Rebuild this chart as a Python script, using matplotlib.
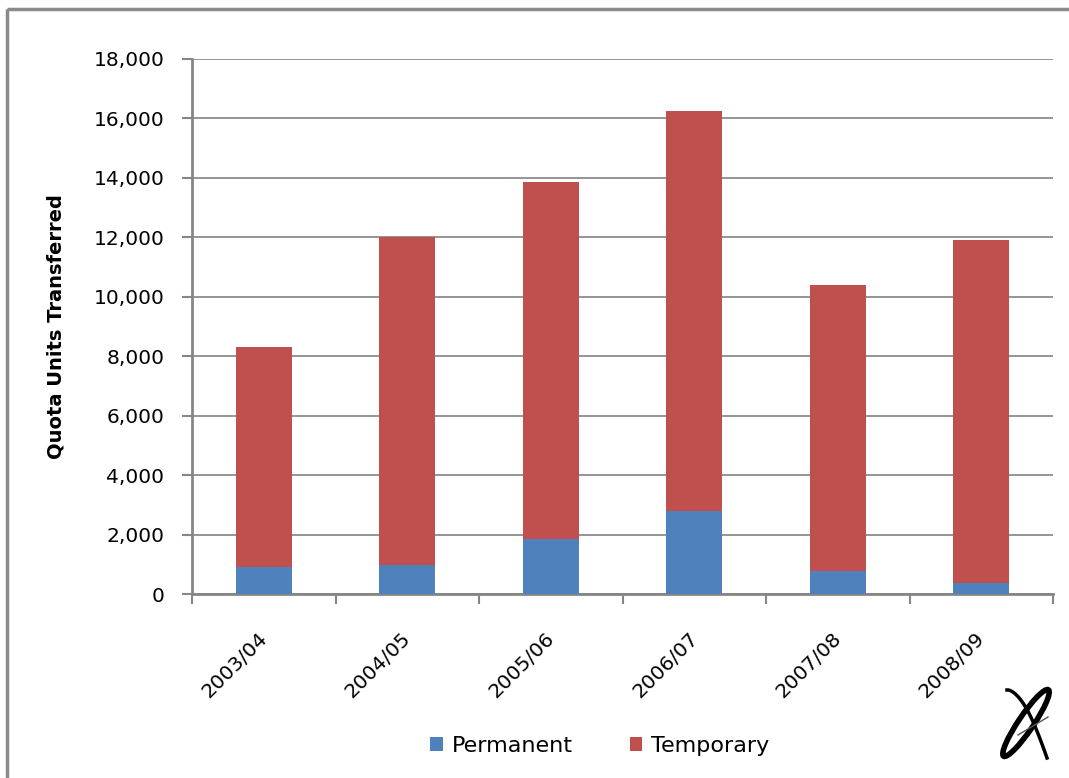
import numpy as np
import matplotlib
matplotlib.use("Agg")
import matplotlib.pyplot as plt
import matplotlib.transforms as mtransforms
from matplotlib.patches import Rectangle, Ellipse
from matplotlib.ticker import FuncFormatter

plt.rcParams['font.family'] = ['DejaVu Sans']

years = ['2003/04', '2004/05', '2005/06', '2006/07', '2007/08', '2008/09']
permanent = [900, 960, 1850, 2780, 760, 380]
total = [8310, 12010, 13860, 16250, 10390, 11910]
temporary = [t - p for t, p in zip(total, permanent)]

W, H = 1069, 778
fig = plt.figure(figsize=(W / 100, H / 100), dpi=100)

# background layer in pixel units: outer frame and corner logo
bg = fig.add_axes([0, 0, 1, 1], zorder=-1)
bg.set_xlim(0, W)
bg.set_ylim(H, 0)
bg.axis('off')
bg.add_patch(Rectangle((6.5, 8.5), W, H, fill=False, edgecolor='#8a8a8a', linewidth=2.5))
bg.add_patch(Ellipse((1026, 723), 15, 80, angle=34, fill=False, edgecolor='black', linewidth=4))
t = np.linspace(0, 1, 30)
bg.plot(1007 + 40 * t, 690 + 68 * t ** 1.3 - 8 * np.sin(np.pi * t), color='black', linewidth=2.5)
bg.plot([1018, 1048], [735, 717], color='#555555', linewidth=1)

ax = fig.add_axes([192 / W, 1 - 594 / H, (1053 - 192) / W, (594 - 59) / H])

x = np.arange(len(years))
ax.bar(x, permanent, width=0.39, color='#4F81BD', label='Permanent', zorder=3)
ax.bar(x, temporary, width=0.39, bottom=permanent, color='#C0504D', label='Temporary', zorder=3)

ax.set_xlim(-0.5, len(years) - 0.5)
ax.set_ylim(0, 18000)
ax.set_yticks(np.arange(0, 18001, 2000))
ax.yaxis.set_major_formatter(FuncFormatter(lambda v, p: f'{int(v):,}'))
ax.yaxis.grid(True, color='#8c8c8c', linewidth=1.3, zorder=0)

ax.set_xticks(x)
ax.set_xticklabels(years, rotation=45, ha='right', rotation_mode='anchor')
ax.set_xticks(np.arange(-0.5, len(years)), minor=True)
ax.tick_params(axis='x', which='major', length=0, pad=25, labelsize=14.5)
ax.tick_params(axis='x', which='minor', length=7, width=1.5, color='#868686', direction='out')
ax.tick_params(axis='y', length=7, width=1.5, color='#868686', labelsize=14.5, pad=13)
shift = mtransforms.ScaledTranslation(-6 / 100, 0, fig.dpi_scale_trans)
for lbl in ax.get_xticklabels():
    lbl.set_transform(lbl.get_transform() + shift)

for s in ['top', 'right']:
    ax.spines[s].set_visible(False)
for s in ['left', 'bottom']:
    ax.spines[s].set_color('#868686')
    ax.spines[s].set_linewidth(2)

ax.set_ylabel('Quota Units Transferred', fontsize=14, fontweight='bold', labelpad=20)

fig.legend(loc='center', bbox_to_anchor=(600 / W, 1 - 746 / H), ncol=2, frameon=False,
           fontsize=16, handlelength=0.55, handleheight=0.55, columnspacing=2.6,
           handletextpad=0.4)

fig.savefig('out.png', dpi=100)
